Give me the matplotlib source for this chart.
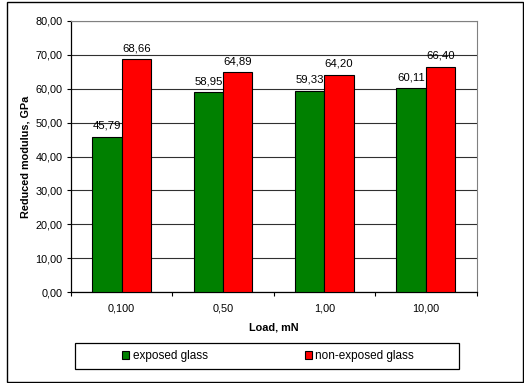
import matplotlib
matplotlib.use("Agg")
import matplotlib.pyplot as plt
import numpy as np
from matplotlib.patches import Rectangle

plt.rcParams["font.family"] = ["Liberation Sans", "DejaVu Sans"]

loads = ["0,100", "0,50", "1,00", "10,00"]
exposed = [45.79, 58.95, 59.33, 60.11]
non_exposed = [68.66, 64.89, 64.20, 66.40]
series_names = ["exposed glass", "non-exposed glass"]
series_colors = ["#008000", "#ff0000"]
y_ticks = [0, 10, 20, 30, 40, 50, 60, 70, 80]

W, H = 524, 383
fig = plt.figure(figsize=(W / 100, H / 100), dpi=100)
fig.patch.set_facecolor("white")

# outer chart frame
fig.patches.append(Rectangle((7 / W, 1 / H), 516 / W, 380 / H, transform=fig.transFigure,
                             fill=False, edgecolor="black", linewidth=1.0))

ax = fig.add_axes([71 / W, 1 - 292 / H, 405.5 / W, 271 / H])
x = np.arange(len(loads))
bw = 0.29
bars1 = ax.bar(x - bw / 2, exposed, bw, color=series_colors[0], edgecolor="black",
               linewidth=0.8, zorder=3, label=series_names[0])
bars2 = ax.bar(x + bw / 2, non_exposed, bw, color=series_colors[1], edgecolor="black",
               linewidth=0.8, zorder=3, label=series_names[1])

for bars, vals in ((bars1, exposed), (bars2, non_exposed)):
    for b, v in zip(bars, vals):
        ax.text(b.get_x() + b.get_width() / 2, v + 1.8, f"{v:.2f}".replace(".", ","),
                ha="center", va="bottom", fontsize=8.2, zorder=4)

ax.set_xlim(-0.5, len(loads) - 0.5)
ax.set_ylim(0, 80)
ax.set_yticks(y_ticks)
ax.set_yticklabels([f"{t:.2f}".replace(".", ",") for t in y_ticks], fontsize=7.8)
ax.set_xticks(x)
ax.set_xticklabels(loads, fontsize=7.8)
ax.set_xticks(np.arange(-0.5, len(loads), 1), minor=True)
ax.tick_params(axis="x", which="major", length=0, pad=8)
ax.tick_params(axis="x", which="minor", length=3, direction="out", width=0.8)
ax.tick_params(axis="y", length=3, direction="out", width=0.8, pad=3)

ax.yaxis.grid(True, color="#303030", linewidth=0.8, zorder=0)
ax.set_axisbelow(True)
for side in ("top", "right"):
    ax.spines[side].set_color("#808080")
    ax.spines[side].set_linewidth(0.8)
for side in ("left", "bottom"):
    ax.spines[side].set_color("black")
    ax.spines[side].set_linewidth(0.9)

ax.set_ylabel("Reduced modulus, GPa", fontsize=7.8, fontweight="bold")
ax.set_xlabel("Load, mN", fontsize=7.8, fontweight="bold")
ax.yaxis.set_label_coords(-45 / 405.5, 0.5)
ax.xaxis.set_label_coords(0.5, -(327 - 292) / 271)
ax.xaxis.label.set_va("center")
ax.yaxis.label.set_va("center")

# legend frame drawn separately so its width can be set independently
fig.patches.append(Rectangle((75 / W, 1 - 369 / H), 384 / W, 26 / H, transform=fig.transFigure,
                             fill=False, edgecolor="black", linewidth=0.9))
leg = fig.legend(handles=[bars1, bars2], labels=series_names, loc="center",
                 bbox_to_anchor=(268 / W, 1 - 356 / H), ncol=2, fontsize=8.5,
                 frameon=False, handlelength=0.6, handleheight=0.6,
                 handletextpad=0.3, columnspacing=8.2, borderpad=0)

fig.savefig("out.png", dpi=100)
